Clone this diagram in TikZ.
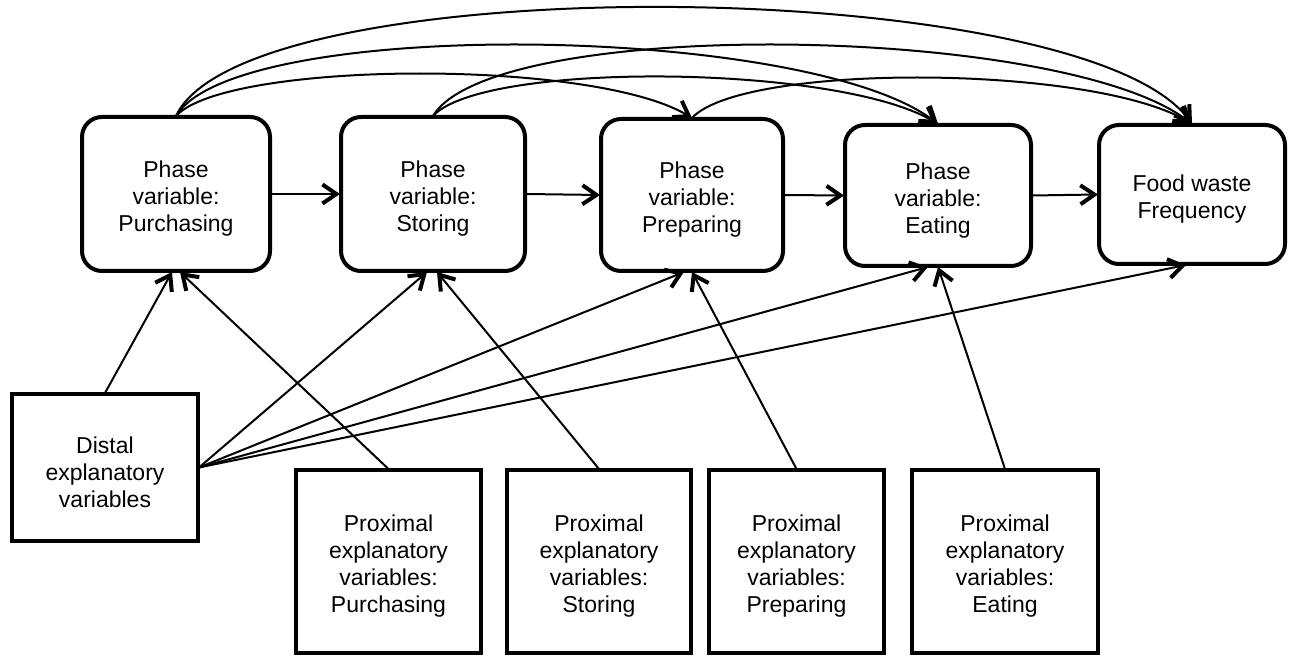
\documentclass[tikz,border=0pt]{standalone}
\usepackage{fontspec}
\setmainfont{Liberation Sans}
\usetikzlibrary{arrows.meta}
\newcommand{\fstrut}{\rule{0pt}{13pt}}
\begin{document}
\begin{tikzpicture}[x=0.5pt,y=-0.5pt,
  txt/.style={align=center, inner sep=0pt, outer sep=0.5pt, font=\fontsize{11.5}{13.5}\selectfont},
  phase/.style={txt, draw, line width=2pt, rounded corners=10pt},
  expl/.style={txt, draw, line width=2pt},
  conn/.style={line width=1pt, -{Straight Barb[length=7pt,width=9.5pt,line width=2pt]}}]
\useasboundingbox (0,0) rectangle (1291,657);
% phase boxes
\node[phase, minimum width=94pt, minimum height=77pt] (p1) at (176,194) {\fstrut Phase\\variable:\\Purchasing};
\node[phase, minimum width=92pt, minimum height=77pt] (p2) at (433,194) {\fstrut Phase\\variable:\\Storing};
\node[phase, minimum width=91pt, minimum height=76pt] (p3) at (692,195) {\fstrut Phase\\variable:\\Preparing};
\node[phase, minimum width=93pt, minimum height=70.5pt] (p4) at (938,195.5) {\fstrut Phase\\variable:\\Eating};
\node[phase, minimum width=93pt, minimum height=69.5pt] (p5) at (1192,194.5) {\fstrut Food waste\\Frequency};
% explanatory boxes
\node[expl, minimum width=93pt, minimum height=73.5pt] (d) at (105,467.5) {\fstrut Distal\\explanatory\\variables};
\node[expl, minimum width=92.5pt, minimum height=91.5pt] (q1) at (388.5,561.5) {\fstrut Proximal\\explanatory\\variables:\\Purchasing};
\node[expl, minimum width=92pt, minimum height=91.5pt] (q2) at (599,561.5) {\fstrut Proximal\\explanatory\\variables:\\Storing};
\node[expl, minimum width=87.5pt, minimum height=91.5pt] (q3) at (796.5,561.5) {\fstrut Proximal\\explanatory\\variables:\\Preparing};
\node[expl, minimum width=93pt, minimum height=91.5pt] (q4) at (1005,561.5) {\fstrut Proximal\\explanatory\\variables:\\Eating};
% sequential arrows
\draw[conn] (p1.east) -- (p2.west);
\draw[conn] (p2.east) -- (p3.west);
\draw[conn] (p3.east) -- (p4.west);
\draw[conn] (p4.east) -- (p5.west);
% top curves
\draw[conn] (p1.north) .. controls +(70,-150) and +(-110,-150) .. (p5.north);
\draw[conn] (p1.north) .. controls +(60,-100) and +(-130,-100) .. (p4.north);
\draw[conn] (p1.north) .. controls +(50,-55) and +(-100,-60) .. (p3.north);
\draw[conn] (p2.north) .. controls +(60,-100) and +(-130,-100) .. (p5.north);
\draw[conn] (p2.north) .. controls +(50,-55) and +(-100,-60) .. (p4.north);
\draw[conn] (p3.north) .. controls +(50,-55) and +(-100,-60) .. (p5.north);
% distal arrows
\draw[conn] (d.north) -- ([xshift=-2pt]p1.south);
\draw[conn] (d.east) -- ([xshift=-3pt]p2.south);
\draw[conn] (d.east) -- ([xshift=-4pt]p3.south);
\draw[conn] (d.east) -- ([xshift=-5pt]p4.south);
\draw[conn] (d.east) -- ([xshift=-3pt]p5.south);
% proximal arrows
\draw[conn] (q1.north) -- ([xshift=2pt]p1.south);
\draw[conn] (q2.north) -- ([xshift=2pt]p2.south);
\draw[conn] (q3.north) -- (p3.south);
\draw[conn] (q4.north) -- (p4.south);
\end{tikzpicture}
\end{document}
